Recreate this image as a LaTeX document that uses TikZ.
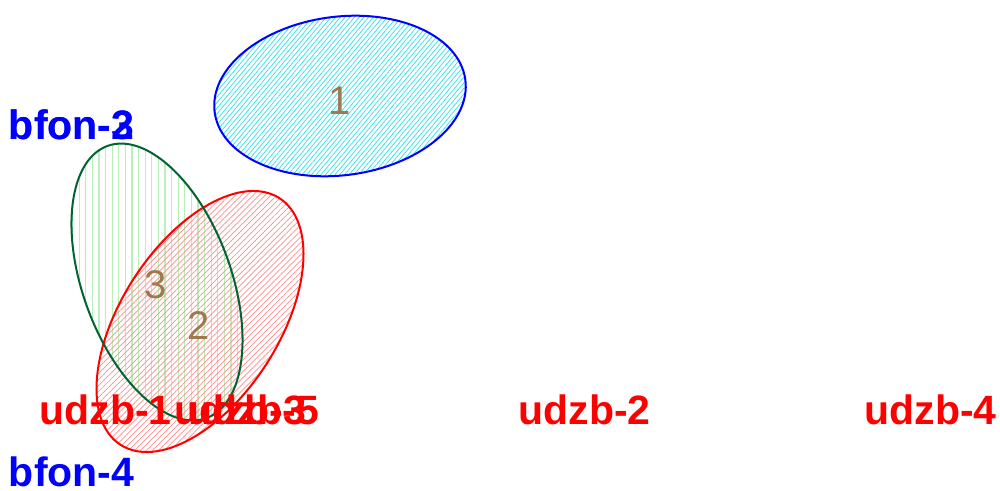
\documentclass[tikz,border=0pt]{standalone}
\usepackage{fontspec}
\setmainfont{Liberation Sans}
\usetikzlibrary{patterns.meta}
\definecolor{hatchcyan}{RGB}{40,225,235}
\definecolor{hatchred}{RGB}{255,140,140}
\definecolor{hatchgreen}{RGB}{185,240,185}
\definecolor{darkgreenline}{RGB}{0,100,50}
\definecolor{digitbrown}{RGB}{160,120,80}
\tikzset{
  setlabel/.style={anchor=base west, inner sep=0pt, font=\fontsize{41}{48}\selectfont\bfseries},
  bfonlabel/.style={setlabel, text=blue},
  udzblabel/.style={setlabel, text=red},
  regionlabel/.style={anchor=center, inner sep=0pt, text=digitbrown, font=\fontsize{40}{48}\selectfont},
  outline/.style={line width=2pt}
}
\begin{document}
\begin{tikzpicture}[x=1pt,y=1pt]
\useasboundingbox (0,0) rectangle (1000,490);
% hatched fills
\path[pattern={Lines[angle=50,distance=3.6pt,line width=0.7pt]}, pattern color=hatchcyan]
  (340,394) ellipse[x radius=126.4, y radius=79.3, rotate=7.3];
\path[pattern={Lines[angle=90,distance=6.6pt,line width=1.1pt]}, pattern color=hatchgreen]
  (157,208) ellipse[x radius=74.2, y radius=144.8, rotate=20];
\path[pattern={Lines[angle=45,distance=4.2pt,line width=0.7pt]}, pattern color=hatchred]
  (200,168.5) ellipse[x radius=78.9, y radius=146.7, rotate=-32.8];
% outlines
\draw[outline, blue] (340,394) ellipse[x radius=126.4, y radius=79.3, rotate=7.3];
\draw[outline, red] (200,168.5) ellipse[x radius=78.9, y radius=146.7, rotate=-32.8];
\draw[outline, darkgreenline] (157,208) ellipse[x radius=74.2, y radius=144.8, rotate=20];
% region numbers
\node[regionlabel] (r1) at (340,389.5) {1};
\node[regionlabel] (r3) at (156,205) {3};
\node[regionlabel] (r2) at (199,164) {2};
% set labels
\node[bfonlabel] (bfon2) at (8.8,350.7) {bfon-2};
\node[bfonlabel] (bfon3) at (8.8,350.7) {bfon-3};
\node[bfonlabel] (bfon4) at (8.8,4) {bfon-4};
\node[udzblabel] (udzb1) at (39.3,65.5) {udzb-1};
\node[udzblabel] (udzb3) at (174,65.5) {udzb-3};
\node[udzblabel] (udzb5) at (187,65.5) {udzb-5};
\node[udzblabel] (udzb2) at (518.3,65.5) {udzb-2};
\node[udzblabel] (udzb4) at (864.3,65.5) {udzb-4};
\end{tikzpicture}
\end{document}
